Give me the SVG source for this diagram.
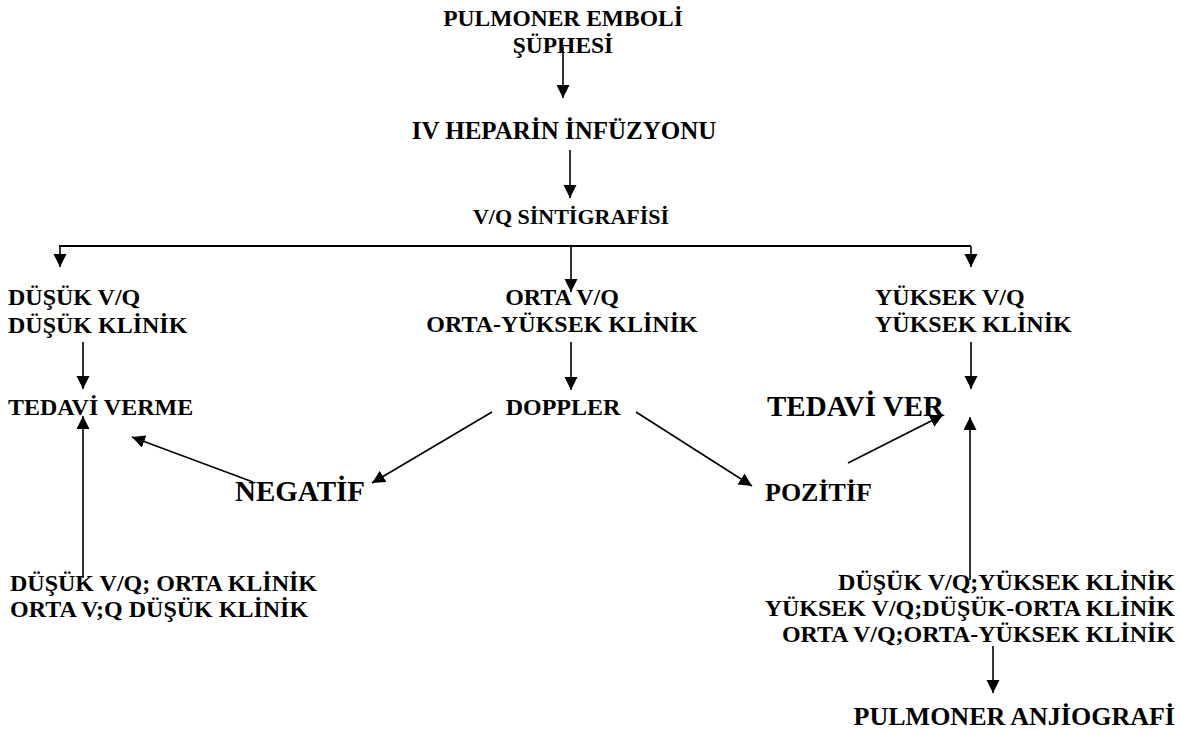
<svg xmlns="http://www.w3.org/2000/svg" width="1182" height="735" viewBox="0 0 1182 735">
<style>
  text { font-family: "Liberation Serif", "Times New Roman", serif; font-weight: bold; fill: #000; font-size: 24px; }
  .c { text-anchor: middle; }
  .e { text-anchor: end; }
  .big { font-size: 29px; }
  .conn line { stroke: #000; stroke-width: 1.6; fill: none; }
  .conn .bar { stroke-width: 2.2; }
  .arr { marker-end: url(#ah); }
</style>
<defs>
  <marker id="ah" markerWidth="14" markerHeight="14" refX="13" refY="6.5" orient="auto" markerUnits="userSpaceOnUse">
    <path d="M0,0 L13,6.5 L0,13 z" fill="#000"/>
  </marker>
</defs>
<rect width="1182" height="735" fill="#fff"/>

<g id="n-suphe">
  <text class="c" x="563" y="26" style="font-size:23.5px">PULMONER EMBOLİ</text>
  <text class="c" x="563" y="53" style="font-size:23.5px">ŞÜPHESİ</text>
</g>
<g id="n-heparin"><text class="c" x="564" y="139" style="font-size:25px">IV HEPARİN İNFÜZYONU</text></g>
<g id="n-vq"><text class="c" x="571" y="224" style="font-size:22px">V/Q SİNTİGRAFİSİ</text></g>

<g id="n-dusuk">
  <text x="8" y="305">DÜŞÜK V/Q</text>
  <text x="8" y="333">DÜŞÜK KLİNİK</text>
</g>
<g id="n-orta">
  <text class="c" x="562" y="305">ORTA V/Q</text>
  <text class="c" x="562" y="332">ORTA-YÜKSEK KLİNİK</text>
</g>
<g id="n-yuksek">
  <text x="875" y="305">YÜKSEK V/Q</text>
  <text x="875" y="332">YÜKSEK KLİNİK</text>
</g>

<g id="n-tedaviverme"><text x="8" y="415">TEDAVİ VERME</text></g>
<g id="n-doppler"><text class="c" x="563" y="415">DOPPLER</text></g>
<g id="n-tedaviver"><text class="big" x="767" y="416">TEDAVİ VER</text></g>

<g id="n-negatif"><text class="big" x="235" y="501">NEGATİF</text></g>
<g id="n-pozitif"><text x="765" y="501" style="font-size:26px">POZİTİF</text></g>

<g id="n-sol-alt">
  <text x="10" y="591">DÜŞÜK V/Q; ORTA KLİNİK</text>
  <text x="10" y="617">ORTA V;Q DÜŞÜK KLİNİK</text>
</g>
<g id="n-sag-alt">
  <text class="e" x="1175" y="590">DÜŞÜK V/Q;YÜKSEK KLİNİK</text>
  <text class="e" x="1175" y="616">YÜKSEK V/Q;DÜŞÜK-ORTA KLİNİK</text>
  <text class="e" x="1175" y="642">ORTA V/Q;ORTA-YÜKSEK KLİNİK</text>
</g>
<g id="n-anjio"><text class="e" x="1175" y="725" style="font-size:26px">PULMONER ANJİOGRAFİ</text></g>

<g id="connectors" class="conn">
  <line class="arr" x1="563" y1="47" x2="563" y2="98"/>
  <line class="arr" x1="570" y1="150" x2="570" y2="198"/>
  <line class="bar" x1="59" y1="246" x2="971" y2="246"/>
  <line class="arr" x1="60" y1="246" x2="60" y2="267"/>
  <line class="arr" x1="571" y1="246" x2="571" y2="292"/>
  <line class="arr" x1="971" y1="246" x2="971" y2="267"/>
  <line class="arr" x1="83" y1="342" x2="83" y2="389"/>
  <line class="arr" x1="571" y1="342" x2="571" y2="390"/>
  <line class="arr" x1="971" y1="342" x2="971" y2="389"/>
  <line class="arr" x1="492" y1="412" x2="372" y2="483"/>
  <line class="arr" x1="636" y1="412" x2="752" y2="486"/>
  <line class="arr" x1="253" y1="482" x2="132" y2="437"/>
  <line class="arr" x1="848" y1="463" x2="943" y2="415"/>
  <line class="arr" x1="83" y1="578" x2="83" y2="416"/>
  <line class="arr" x1="970" y1="580" x2="970" y2="417"/>
  <line class="arr" x1="993" y1="646" x2="993" y2="693"/>
</g>
</svg>
